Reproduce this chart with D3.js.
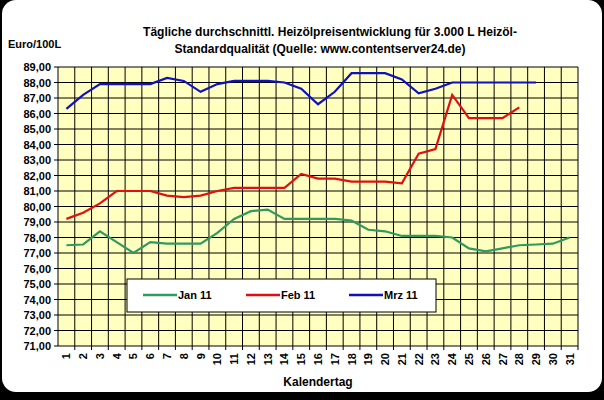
<!DOCTYPE html>
<html><head><meta charset="utf-8">
<script src="https://cdn.jsdelivr.net/npm/d3@7"></script>
<style>body{margin:0;background:#000}text{font-family:"Liberation Sans",Arial,sans-serif;font-weight:bold}</style>
</head><body>
<script>
const days = d3.range(1, 32);
const yTicks = d3.range(71, 90);
const jan = [77.5,77.55,78.4,77.7,77.0,77.7,77.6,77.6,77.6,78.3,79.2,79.7,79.8,79.2,79.2,79.2,79.2,79.1,78.5,78.4,78.1,78.1,78.1,78.0,77.3,77.1,77.3,77.5,77.55,77.6,78.0];
const feb = [79.2,79.6,80.2,81.0,81.0,81.0,80.7,80.6,80.7,81.0,81.2,81.2,81.2,81.2,82.1,81.8,81.8,81.6,81.6,81.6,81.5,83.4,83.7,87.2,85.7,85.7,85.7,86.4];
const mrz = [86.3,87.2,87.9,87.9,87.9,87.9,88.3,88.1,87.4,87.9,88.1,88.1,88.1,88.0,87.6,86.6,87.4,88.6,88.6,88.6,88.2,87.3,87.6,88.0,88.0,88.0,88.0,88.0,88.0];
const seriesNames = ["Jan 11", "Feb 11", "Mrz 11"];
const colors = ["#2e9a5e", "#e01010", "#1010c0"];

const svg = d3.select("body").append("svg").attr("width", 604).attr("height", 400);
svg.append("rect").attr("x", 2).attr("y", 0).attr("width", 600).attr("height", 392).attr("rx", 14).attr("fill", "#fff");

const x = d3.scaleBand().domain(days).range([58, 578]);
const y = d3.scaleLinear().domain([71, 89]).range([346, 67]);

svg.append("rect").attr("x", 58).attr("y", 67).attr("width", 520).attr("height", 279).attr("fill", "#ffffc0");
const g = svg.append("g").attr("stroke", "#000").attr("stroke-width", 1);
days.forEach(d => g.append("line").attr("x1", x(d) + x.bandwidth()).attr("x2", x(d) + x.bandwidth()).attr("y1", 67).attr("y2", 350));
yTicks.forEach(v => g.append("line").attr("x1", 54).attr("x2", 578).attr("y1", y(v)).attr("y2", y(v)));
g.append("line").attr("x1", 58).attr("x2", 58).attr("y1", 67).attr("y2", 346);

svg.selectAll(".yl").data(yTicks).join("text").attr("x", 51).attr("y", d => y(d) + 4)
  .attr("text-anchor", "end").attr("font-size", 11).text(d => d3.format(".2f")(d).replace(".", ","));
svg.selectAll(".xl").data(days).join("text")
  .attr("transform", d => `translate(${x(d) + x.bandwidth() / 2 + 4},353) rotate(-90)`)
  .attr("text-anchor", "end").attr("font-size", 11).text(d => d);

const line = d3.line().x((d, i) => x(i + 1) + x.bandwidth() / 2).y(d => y(d));
[jan, feb, mrz].forEach((s, i) => svg.append("path").attr("d", line(s)).attr("fill", "none")
  .attr("stroke", colors[i]).attr("stroke-width", 2.2));

const lg = svg.append("g");
lg.append("rect").attr("x", 127).attr("y", 279).attr("width", 309).attr("height", 33).attr("fill", "#fff").attr("stroke", "#000");
seriesNames.forEach((n, i) => {
  const lx = 143 + i * 103;
  lg.append("line").attr("x1", lx).attr("x2", lx + 34).attr("y1", 295).attr("y2", 295).attr("stroke", colors[i]).attr("stroke-width", 2.5);
  lg.append("text").attr("x", lx + 35).attr("y", 299).attr("font-size", 11).text(n);
});

svg.append("text").attr("x", 8).attr("y", 48).attr("font-size", 11).text("Euro/100L");
svg.append("text").attr("x", 330).attr("y", 36).attr("text-anchor", "middle").attr("font-size", 12).text("Tägliche durchschnittl. Heizölpreisentwicklung für 3.000 L Heizöl-");
svg.append("text").attr("x", 320).attr("y", 53).attr("text-anchor", "middle").attr("font-size", 12).text("Standardqualität (Quelle: www.contentserver24.de)");
svg.append("text").attr("x", 318).attr("y", 386).attr("text-anchor", "middle").attr("font-size", 12).text("Kalendertag");
</script>
</body></html>
